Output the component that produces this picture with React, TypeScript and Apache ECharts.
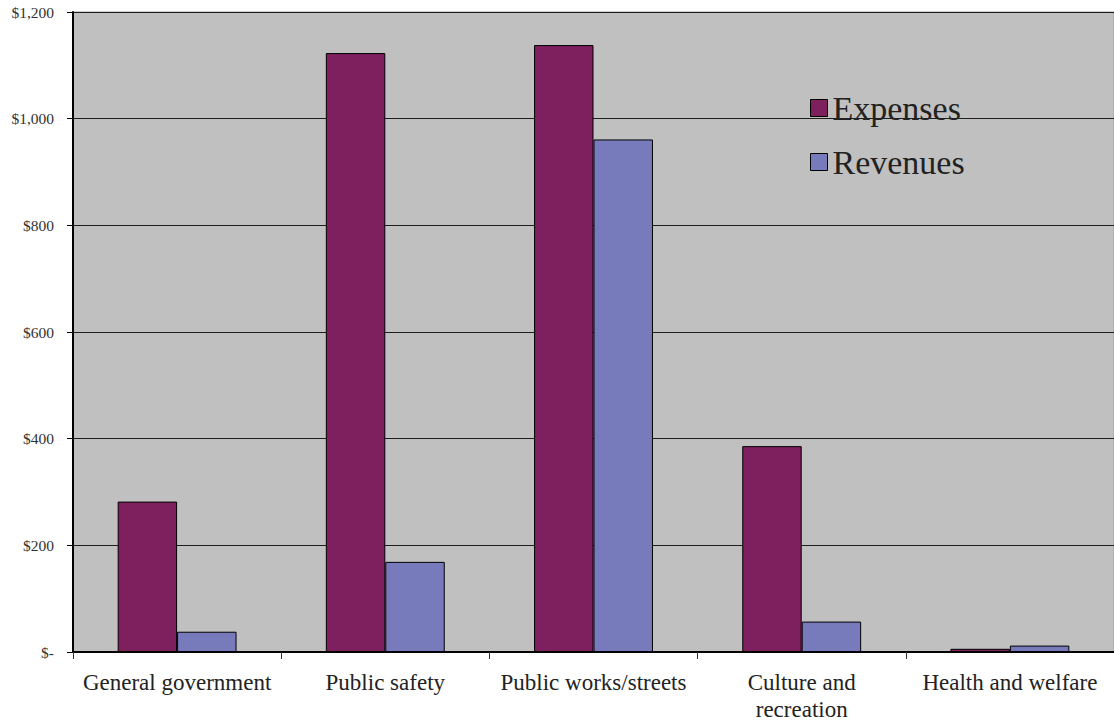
import React, { useEffect, useRef } from "react";
import * as echarts from "echarts";

const categories = [
  "General government",
  "Public safety",
  "Public works/streets",
  "Culture and recreation",
  "Health and welfare",
];
const expenses = [282, 1123, 1138, 386, 6];
const revenues = [38, 169, 961, 57, 12];
const seriesNames = ["Expenses", "Revenues"];

const FONT = "'Liberation Serif', 'Times New Roman', serif";

export default function App() {
  const ref = useRef<HTMLDivElement>(null);
  useEffect(() => {
    if (!ref.current) return;
    const chart = echarts.init(ref.current, undefined, { renderer: "svg" });
    chart.setOption({
      animation: false,
      backgroundColor: "#ffffff",
      grid: {
        left: 73,
        right: 0,
        top: 12,
        bottom: 72,
        show: true,
        backgroundColor: "#C0C0C0",
        borderColor: "#9a9a9a",
        borderWidth: 1,
      },
      legend: {
        orient: "vertical",
        left: 805,
        top: 85,
        itemWidth: 17,
        itemHeight: 17,
        itemGap: 18,
        icon: "rect",
        data: seriesNames,
        textStyle: {
          fontFamily: FONT,
          fontSize: 34,
          lineHeight: 36,
          color: "#222",
          padding: [0, 0, 0, 0],
        },
        itemStyle: { borderColor: "#000", borderWidth: 1 },
      },
      xAxis: {
        type: "category",
        data: categories,
        axisLine: { lineStyle: { color: "#000", width: 2 } },
        axisTick: { show: true, length: 7, lineStyle: { color: "#333", width: 1 } },
        axisLabel: {
          fontFamily: FONT,
          fontSize: 23,
          lineHeight: 27,
          color: "#222",
          margin: 17,
          interval: 0,
          formatter: (v: string) =>
            v === "Culture and recreation" ? "Culture and\nrecreation" : v,
        },
      },
      yAxis: {
        type: "value",
        min: 0,
        max: 1200,
        interval: 200,
        axisLine: { show: true, lineStyle: { color: "#000", width: 2 } },
        axisTick: { show: true, length: 6, lineStyle: { color: "#000", width: 1 } },
        splitLine: { lineStyle: { color: "#1e1e1e", width: 1.2 } },
        axisLabel: {
          fontFamily: FONT,
          fontSize: 15.5,
          color: "#333",
          margin: 19,
          formatter: (v: number) =>
            v === 0 ? "$-" : "$" + v.toLocaleString("en-US"),
        },
      },
      series: [
        {
          name: seriesNames[0],
          type: "bar",
          data: expenses,
          barGap: "0%",
          barCategoryGap: "42.9%",
          itemStyle: { color: "#7E1F5E", borderColor: "#000", borderWidth: 1 },
        },
        {
          name: seriesNames[1],
          type: "bar",
          data: revenues,
          barGap: "0%",
          barCategoryGap: "42.9%",
          itemStyle: { color: "#787BBB", borderColor: "#000", borderWidth: 1 },
        },
      ],
    });
    return () => chart.dispose();
  }, []);
  return (
    <div
      ref={ref}
      style={{ position: "fixed", left: 0, top: 0, width: 1114, height: 724 }}
    />
  );
}
